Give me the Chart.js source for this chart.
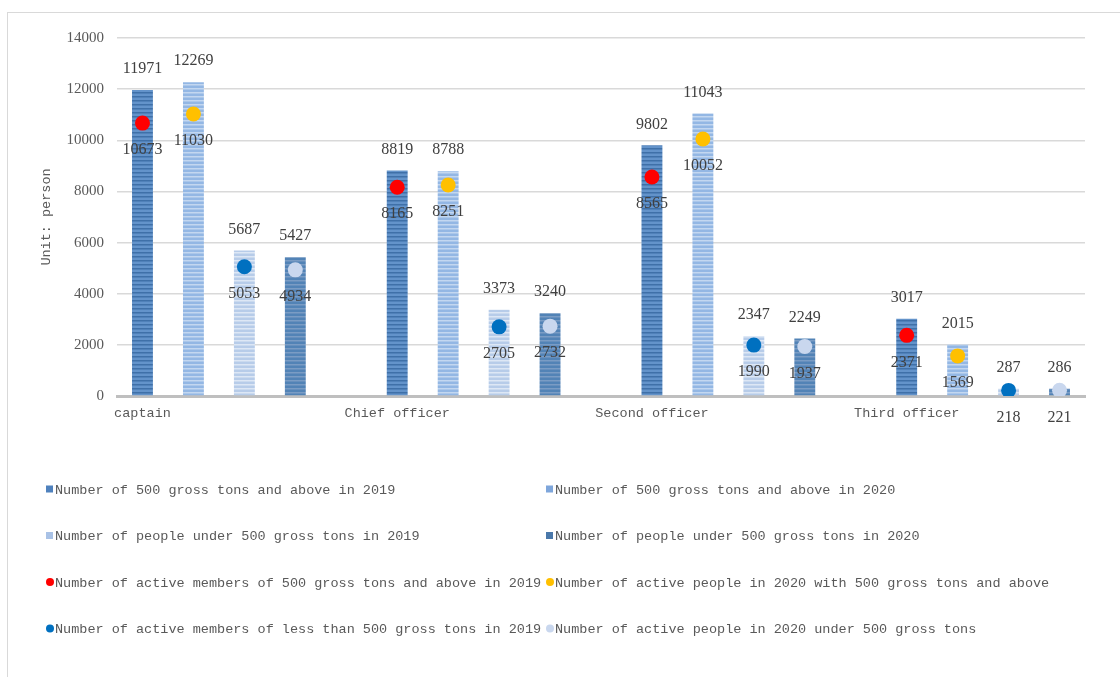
<!DOCTYPE html>
<html>
<head>
<meta charset="utf-8">
<script src="https://cdn.jsdelivr.net/npm/chart.js@4.4.0/dist/chart.umd.min.js"></script>
<style>
  html, body { margin: 0; padding: 0; background: #fff; overflow: hidden; }
  #frame { position: absolute; left: 7px; top: 12px; width: 1300px; height: 900px; border: 1px solid #d9d9d9; }
  #myChart { position: absolute; left: 0; top: 0; }
</style>
</head>
<body>
<div id="frame"></div>
<canvas id="myChart" width="1120" height="677"></canvas>
<script>
// 19 slots on the category axis: four bars per rank, one blank slot between ranks
var categories = ['captain', '', '', '', '', 'Chief officer', '', '', '', '', 'Second officer', '', '', '', '', 'Third officer', '', '', ''];

var bigShips2019 = [11971, 8819, 9802, 3017];
var bigShips2020 = [12269, 8788, 11043, 2015];
var smallShips2019 = [5687, 3373, 2347, 287];
var smallShips2020 = [5427, 3240, 2249, 286];

var activeBig2019 = [10673, 8165, 8565, 2371];
var activeBig2020 = [11030, 8251, 10052, 1569];
var activeSmall2019 = [5053, 2705, 1990, 218];
var activeSmall2020 = [4934, 2732, 1937, 221];

var yTicks = [0, 2000, 4000, 6000, 8000, 10000, 12000, 14000];

var seriesNames = [
    'Number of 500 gross tons and above in 2019',
    'Number of 500 gross tons and above in 2020',
    'Number of people under 500 gross tons in 2019',
    'Number of people under 500 gross tons in 2020',
    'Number of active members of 500 gross tons and above in 2019',
    'Number of active people in 2020 with 500 gross tons and above',
    'Number of active members of less than 500 gross tons in 2019',
    'Number of active people in 2020 under 500 gross tons'
];

// spread four values over the slots, offset = position inside each group
function spread(values, offset) {
    var out = categories.map(function () { return null; });
    values.forEach(function (v, i) { out[i * 5 + offset] = v; });
    return out;
}

function stripes(base, line) {
    var c = document.createElement('canvas');
    c.width = 4; c.height = 4;
    var g = c.getContext('2d');
    g.fillStyle = base;
    g.fillRect(0, 0, 4, 4);
    g.fillStyle = line;
    g.fillRect(0, 0, 4, 1.5);
    return g.createPattern(c, 'repeat');
}

var barColors = ['#4f81bd', '#7ea6db', '#a9c2e6', '#4a78aa'];
var pointColors = ['#ff0000', '#ffc000', '#0070c0', '#c9d7ee'];

var ctx = document.getElementById('myChart').getContext('2d');

function barSet(i, values, base, line) {
    return {
        type: 'bar',
        label: seriesNames[i],
        data: spread(values, i),
        backgroundColor: stripes(base, line),
        legendColor: barColors[i],
        borderWidth: 0,
        grouped: false,
        categoryPercentage: 1,
        barPercentage: 0.41,
        order: 2
    };
}

function pointSet(i, values) {
    return {
        type: 'line',
        label: seriesNames[i + 4],
        data: spread(values, i),
        showLine: false,
        pointRadius: 7.5,
        pointHoverRadius: 7.5,
        pointBorderWidth: 0,
        pointBackgroundColor: pointColors[i],
        backgroundColor: pointColors[i],
        legendColor: pointColors[i],
        order: 1
    };
}

// value labels: above bars, below points
var valueLabels = {
    id: 'valueLabels',
    afterDatasetsDraw: function (chart) {
        var c = chart.ctx;
        c.save();
        c.font = '16px "Liberation Serif", "Times New Roman", serif';
        c.fillStyle = '#404040';
        c.textAlign = 'center';
        c.textBaseline = 'middle';
        chart.data.datasets.forEach(function (ds, di) {
            var meta = chart.getDatasetMeta(di);
            ds.data.forEach(function (v, i) {
                if (v === null) return;
                var el = meta.data[i];
                var y = ds.type === 'bar' ? el.y - 21 : el.y + 27;
                c.fillText(String(v), el.x, y);
            });
        });
        c.restore();
    }
};

// two-column legend under the plot
var gridLegend = {
    id: 'gridLegend',
    afterDraw: function (chart) {
        var c = chart.ctx;
        c.save();
        c.font = '13.5px "Liberation Mono", monospace';
        c.textBaseline = 'middle';
        c.textAlign = 'left';
        chart.data.datasets.forEach(function (ds, i) {
            var x = i % 2 === 0 ? 47 : 547;
            var y = 489 + Math.floor(i / 2) * 46.5;
            c.fillStyle = ds.legendColor;
            if (ds.type === 'bar') {
                c.fillRect(x - 1, y - 3.5, 7, 7);
            } else {
                c.beginPath();
                c.arc(x + 3, y, 4, 0, Math.PI * 2);
                c.fill();
            }
            c.fillStyle = '#595959';
            c.fillText(ds.label, x + 8, y + 1);
        });
        c.restore();
    }
};

var myChart = new Chart(ctx, {
    data: {
        labels: categories,
        datasets: [
            barSet(0, bigShips2019, '#6393ca', '#3f70a8'),
            barSet(1, bigShips2020, '#93b7e4', '#c3d7f0'),
            barSet(2, smallShips2019, '#b7cce9', '#dde7f5'),
            barSet(3, smallShips2020, '#5283b6', '#7a9cc4'),
            pointSet(0, activeBig2019),
            pointSet(1, activeBig2020),
            pointSet(2, activeSmall2019),
            pointSet(3, activeSmall2020)
        ]
    },
    options: {
        responsive: false,
        animation: false,
        devicePixelRatio: 1,
        layout: {
            padding: { left: 0, right: 35, top: 38, bottom: 0 }
        },
        plugins: {
            legend: { display: false },
            tooltip: { enabled: false }
        },
        scales: {
            x: {
                grid: { display: false, drawTicks: false },
                border: { display: true, color: '#bfbfbf', width: 3 },
                ticks: {
                    autoSkip: false,
                    maxRotation: 0,
                    minRotation: 0,
                    padding: 9,
                    color: '#595959',
                    font: { family: '"Liberation Mono", monospace', size: 13.5 }
                },
                afterFit: function (scale) { scale.height = 281; }
            },
            y: {
                min: 0,
                max: 14000,
                afterBuildTicks: function (scale) {
                    scale.ticks = yTicks.map(function (v) { return { value: v }; });
                },
                grid: { color: '#d9d9d9', lineWidth: 1.5, drawTicks: false },
                border: { display: false },
                ticks: {
                    padding: 13,
                    color: '#595959',
                    font: { family: '"Liberation Serif", serif', size: 15 },
                    callback: function (value) { return String(value); }
                },
                title: {
                    display: true,
                    text: 'Unit: person',
                    color: '#595959',
                    padding: { top: 38, bottom: 0 },
                    font: { family: '"Liberation Mono", monospace', size: 13.5 }
                },
                afterFit: function (scale) { scale.width = 117; }
            }
        }
    },
    plugins: [valueLabels, gridLegend]
});
</script>
</body>
</html>
